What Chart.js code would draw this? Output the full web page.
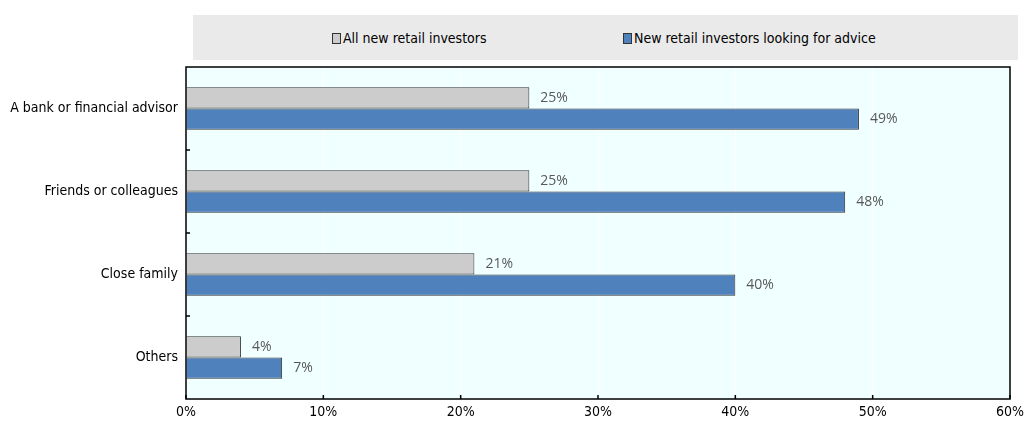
<!DOCTYPE html>
<html>
<head>
<meta charset="utf-8">
<script src="https://cdn.jsdelivr.net/npm/chart.js@4"></script>
<style>
  body { margin: 0; background: #fff; }
  #wrap { position: relative; width: 1025px; height: 421px; }
  #legend {
    position: absolute; left: 193px; top: 15px; width: 825px; height: 45px;
    background: #EAEAEA; font-family: 'DejaVu Sans Condensed', sans-serif;
    font-size: 14px; color: #000;
  }
  .item { position: absolute; top: 15px; line-height: 16px; white-space: nowrap; }
  .sw { display: inline-block; width: 7px; height: 9px; border: 1px solid #333; margin-right: 2px; vertical-align: -1px; }
</style>
</head>
<body>
<div id="wrap">
  <div id="legend">
    <div class="item" style="left:139px"><span class="sw" style="background:#CCCCCC"></span>All new retail investors</div>
    <div class="item" style="left:430px"><span class="sw" style="background:#4F81BD"></span>New retail investors looking for advice</div>
  </div>
  <canvas id="chart" width="1025" height="421"></canvas>
</div>
<script>
const categories = ['A bank or financial advisor', 'Friends or colleagues', 'Close family', 'Others'];
const allInvestors = [25, 25, 21, 4];
const adviceSeekers = [49, 48, 40, 7];
const xTicks = [0, 10, 20, 30, 40, 50, 60];

const narrow = "'DejaVu Sans Condensed', sans-serif";

// plot background, frame and the small inward tick marks
const frame = {
  id: 'frame',
  beforeDraw(chart) {
    const { ctx, chartArea: a } = chart;
    ctx.save();
    ctx.fillStyle = '#F0FFFF';
    ctx.fillRect(a.left, a.top, a.right - a.left, a.bottom - a.top);
    ctx.restore();
  },
  afterDraw(chart) {
    const { ctx, chartArea: a, scales } = chart;
    ctx.save();
    ctx.strokeStyle = '#000';
    ctx.lineWidth = 1.5;
    ctx.strokeRect(a.left, a.top, a.right - a.left, a.bottom - a.top);
    ctx.beginPath();
    xTicks.forEach(v => {
      const x = scales.x.getPixelForValue(v);
      ctx.moveTo(x, a.bottom);
      ctx.lineTo(x, a.bottom - 4);
    });
    for (let i = 0; i < categories.length - 1; i++) {
      const y = (scales.y.getPixelForValue(i) + scales.y.getPixelForValue(i + 1)) / 2;
      ctx.moveTo(a.left, y);
      ctx.lineTo(a.left + 4, y);
    }
    ctx.stroke();
    ctx.restore();
  }
};

// value labels to the right of each bar
const valueLabels = {
  id: 'valueLabels',
  afterDatasetsDraw(chart) {
    const { ctx } = chart;
    ctx.save();
    ctx.fillStyle = '#595959';
    ctx.font = "14px 'Open Sans', sans-serif";
    ctx.textBaseline = 'middle';
    chart.data.datasets.forEach((ds, i) => {
      chart.getDatasetMeta(i).data.forEach((bar, j) => {
        ctx.fillText(ds.data[j] + '%', bar.x + 11, bar.y);
      });
    });
    ctx.restore();
  }
};

new Chart(document.getElementById('chart'), {
  type: 'bar',
  data: {
    labels: categories,
    datasets: [
      { label: 'All new retail investors', data: allInvestors, backgroundColor: '#CCCCCC', borderColor: '#333', borderWidth: 1 },
      { label: 'New retail investors looking for advice', data: adviceSeekers, backgroundColor: '#4F81BD', borderColor: '#333', borderWidth: 1 }
    ]
  },
  options: {
    indexAxis: 'y',
    responsive: false,
    animation: false,
    layout: { padding: { top: 67, right: 0, left: 0, bottom: 0 } },
    datasets: { bar: { categoryPercentage: 0.51, barPercentage: 1 } },
    plugins: { legend: { display: false }, tooltip: { enabled: false } },
    scales: {
      x: {
        min: 0, max: 60,
        afterBuildTicks: s => { s.ticks = xTicks.map(v => ({ value: v })); },
        grid: { color: '#FFFFFF', lineWidth: 1, drawTicks: false },
        border: { display: false },
        ticks: { padding: 5, color: '#000', font: { family: narrow, size: 14 }, callback: v => v + '%', maxRotation: 0 },
        afterFit: s => { s.height = 22; s.paddingRight = 15; s.paddingLeft = 0; }
      },
      y: {
        grid: { display: false, drawTicks: false },
        border: { display: false },
        ticks: { padding: 8, color: '#000', font: { family: narrow, size: 14 } },
        afterFit: s => { s.width = 186; }
      }
    }
  },
  plugins: [frame, valueLabels]
});
</script>
</body>
</html>
